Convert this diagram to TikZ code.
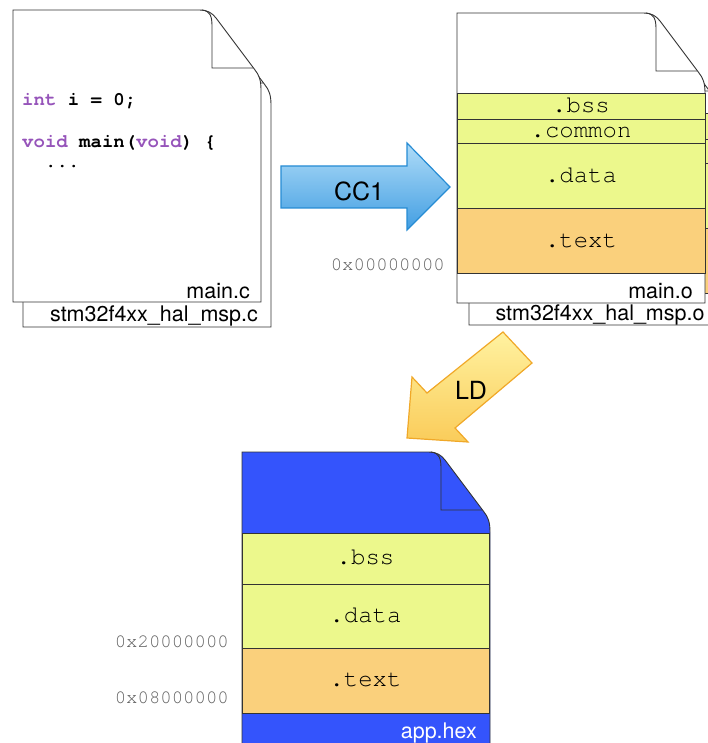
\documentclass[tikz,border=0pt]{standalone}
\usepackage{fontspec}
\setmainfont{TeX Gyre Heros}
\setmonofont{TeX Gyre Cursor}
\usepackage{xcolor}
\usetikzlibrary{arrows.meta,positioning,calc}

\definecolor{secyellow}{RGB}{236,248,140}
\definecolor{secorange}{RGB}{250,208,124}
\definecolor{hexblue}{RGB}{52,84,252}
\definecolor{kwpurple}{RGB}{150,84,186}
\definecolor{addrgray}{RGB}{96,96,96}
\definecolor{cctop}{RGB}{175,220,248}
\definecolor{ccbottom}{RGB}{66,158,226}
\definecolor{ccedge}{RGB}{38,140,212}
\definecolor{ldtop}{RGB}{255,242,160}
\definecolor{ldbottom}{RGB}{250,204,90}
\definecolor{ldedge}{RGB}{240,168,40}

\newcommand{\kw}[1]{\textcolor{kwpurple}{#1}}

\begin{document}
\begin{tikzpicture}[
  x=1pt, y=-1pt,
  every node/.style={inner sep=0pt},
  pageline/.style={draw=black!80, line width=0.9pt},
  secbox/.style={pageline},
  seclabel/.style={font=\fontsize{24}{28}\selectfont\ttfamily, anchor=base},
  namelabel/.style={font=\fontsize{21.5}{26}\selectfont},
  addrlabel/.style={font=\fontsize{19}{22}\selectfont\ttfamily, text=addrgray, anchor=east},
  codeline/.style={font=\fontsize{19}{22}\selectfont\ttfamily\bfseries, anchor=base west},
  steplabel/.style={font=\fontsize{25}{30}\selectfont},
  bigarrow/.style={line width=1.2pt, line join=miter},
  pics/docpage/.style n args={2}{code={
    \draw[pageline, fill=#1] (0,0) -- (186,0) .. controls (195,0) and (199,3) .. (203,8)
      -- (242,60) .. controls (246,65) and (248,70) .. (248,80) -- (248,#2) -- (0,#2) -- cycle;
    \draw[pageline] (189,0) .. controls (197,1) and (199,6) .. (199,16) -- (199,58) -- (240,58);
  }},
]
\clip (0,0) rectangle (708,743);

%% ---- source files ----
\pic at (23,25) {docpage={white}{302}};
\pic at (13,10) {docpage={white}{292}};
\node[codeline] (line1) at (22,106) {\kw{int} i = 0;};
\node[codeline] (line2) at (22,148) {\kw{void} main(\kw{void}) \{};
\node[codeline] (line3) at (45,168) {...};
\node[namelabel, anchor=base east] (mainc) at (250,298) {main.c};
\node[namelabel, anchor=base] (mspc) at (154,321) {stm32f4xx\_hal\_msp.c};

%% ---- CC1 arrow ----
\draw[bigarrow, top color=cctop, bottom color=ccbottom, draw=ccedge]
  (281,166) -- (407,166) -- (407,143) -- (450,187) -- (407,230) -- (407,208) -- (281,208) -- cycle;
\node[steplabel] (cc1) at (359,191) {CC1};

%% ---- object files ----
\pic at (469,33) {docpage={white}{292}};
\draw[secbox, fill=secyellow] (469,113) rectangle (717,139);
\draw[secbox, fill=secyellow] (469,139) rectangle (717,163);
\draw[secbox, fill=secyellow] (469,163) rectangle (717,228);
\draw[secbox, fill=secorange] (469,228) rectangle (717,293);
\pic at (457,13) {docpage={white}{290}};
\draw[secbox, fill=secyellow] (457,93) rectangle (705,119);
\draw[secbox, fill=secyellow] (457,119) rectangle (705,143);
\draw[secbox, fill=secyellow] (457,143) rectangle (705,208);
\draw[secbox, fill=secorange] (457,208) rectangle (705,273);
\node[seclabel] (obss) at (581,113) {.bss};
\node[seclabel] (ocommon) at (581,138) {.common};
\node[seclabel] (odata) at (581,182.5) {.data};
\node[seclabel] (otext) at (581,247.5) {.text};
\node[addrlabel] (oaddr) at (445,265) {0x00000000};
\node[namelabel, anchor=base east] (maino) at (693,298.5) {main.o};
\node[namelabel, anchor=base] (mspo) at (600,320.5) {stm32f4xx\_hal\_msp.o};

%% ---- LD arrow ----
\draw[bigarrow, top color=ldtop, bottom color=ldbottom, draw=ldedge]
  (503,332) -- (532,363) -- (455,428) -- (468,442) -- (407,438) -- (412,377) -- (427,393) -- cycle;
\node[steplabel] (ld) at (471,390) {LD};

%% ---- linked image ----
\pic at (242,452) {docpage={hexblue}{300}};
\draw[secbox, fill=secyellow] (242,533) rectangle (489,584);
\draw[secbox, fill=secyellow] (242,584) rectangle (489,648);
\draw[secbox, fill=secorange] (242,648) rectangle (489,713);
\node[seclabel] (hbss) at (365.5,564.5) {.bss};
\node[seclabel] (hdata) at (365.5,622) {.data};
\node[seclabel] (htext) at (365.5,686.5) {.text};
\node[addrlabel] (haddr1) at (229,642) {0x20000000};
\node[addrlabel] (haddr2) at (229,698) {0x08000000};
\node[namelabel, anchor=base east, text=white] (apphex) at (477,738) {app.hex};
\end{tikzpicture}
\end{document}
